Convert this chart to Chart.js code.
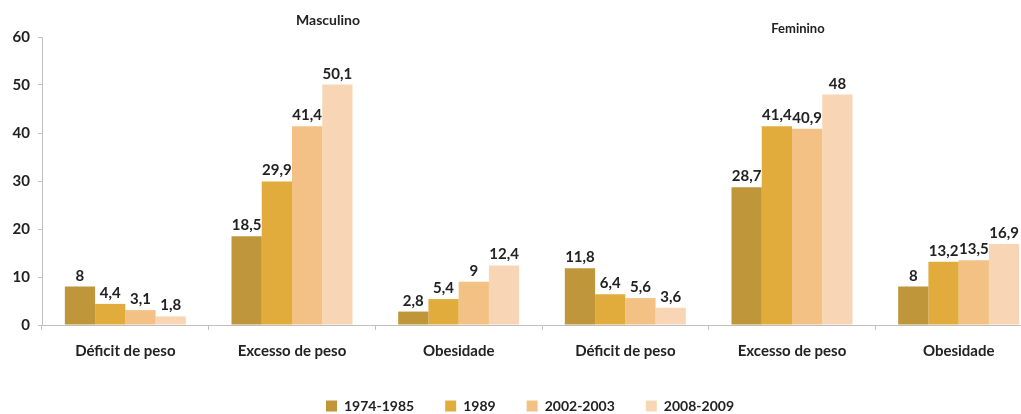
<!DOCTYPE html>
<html>
<head>
<meta charset="utf-8">
<script src="https://cdn.jsdelivr.net/npm/chart.js@4/dist/chart.umd.min.js"></script>
<style>
html,body{margin:0;padding:0;background:#fff;overflow:hidden;}
#wrap{width:1045px;height:414px;}
</style>
</head>
<body>
<div id="wrap"><canvas id="c" width="1045" height="414"></canvas></div>
<script>
const categories = ["Déficit de peso","Excesso de peso","Obesidade","Déficit de peso","Excesso de peso","Obesidade"];
const seriesNames = ["1974-1985","1989","2002-2003","2008-2009"];
const s1974 = [8, 18.5, 2.8, 11.8, 28.7, 8];
const s1989 = [4.4, 29.9, 5.4, 6.4, 41.4, 13.2];
const s2002 = [3.1, 41.4, 9, 5.6, 40.9, 13.5];
const s2008 = [1.8, 50.1, 12.4, 3.6, 48, 16.9];
const yTicks = [0, 10, 20, 30, 40, 50, 60];
const groupTitles = ["Masculino", "Feminino"];

const colors = ["#C0963A", "#E2AC3C", "#F2C183", "#F8D6B5"];
const FONT = "Lato, 'Open Sans', sans-serif";

const valueLabels = {
  id: 'valueLabels',
  afterDatasetsDraw(chart) {
    const ctx = chart.ctx;
    ctx.save();
    ctx.font = "bold 15px " + FONT;
    ctx.fillStyle = "#222";
    ctx.textAlign = "center";
    ctx.textBaseline = "alphabetic";
    chart.data.datasets.forEach((ds, i) => {
      chart.getDatasetMeta(i).data.forEach((bar, j) => {
        const txt = String(ds.data[j]).replace('.', ',');
        ctx.fillText(txt, bar.x, bar.y - 6);
      });
    });
    ctx.restore();
  }
};

const titles = {
  id: 'titles',
  afterDraw(chart) {
    const ctx = chart.ctx;
    ctx.save();
    ctx.fillStyle = "#222";
    ctx.textAlign = "center";
    ctx.textBaseline = "middle";
    ctx.font = "bold 14px " + FONT;
    ctx.fillText(groupTitles[0], 328, 20);
    ctx.font = "bold 13px " + FONT;
    ctx.fillText(groupTitles[1], 798, 29);
    ctx.restore();
  }
};

const shiftLegend = {
  id: 'shiftLegend',
  afterLayout(chart) {
    if (chart.legend) {
      chart.legend.left += 9; chart.legend.right += 9;
      chart.legend.top += 3; chart.legend.bottom += 3;
    }
  }
};

new Chart(document.getElementById('c'), {
  type: 'bar',
  data: {
    labels: categories,
    datasets: [s1974, s1989, s2002, s2008].map((d, i) => ({
      label: seriesNames[i],
      data: d,
      backgroundColor: colors[i],
      borderWidth: 0,
      categoryPercentage: 0.726,
      barPercentage: 1
    }))
  },
  options: {
    responsive: false,
    animation: false,
    layout: { padding: { top: 37, right: 3, left: 0, bottom: -6 } },
    plugins: {
      legend: {
        position: 'bottom',
        labels: {
          boxWidth: 11, boxHeight: 11, padding: 31,
          color: "#222",
          font: { family: FONT, size: 14, weight: 'bold' }
        }
      },
      tooltip: { enabled: false }
    },
    scales: {
      x: {
        grid: { display: true, drawOnChartArea: false, offset: true, tickLength: 5, color: "#BFBFBF" },
        border: { display: true, color: "#BFBFBF", width: 1 },
        ticks: { color: "#222", font: { family: FONT, size: 15, weight: 'bold' }, padding: 12, maxRotation: 0, autoSkip: false },
        afterFit(s) { s.height = 40; }
      },
      y: {
        min: 0, max: 60,
        afterBuildTicks(s) { s.ticks = yTicks.map(v => ({ value: v })); },
        grid: { display: true, drawOnChartArea: false, tickLength: 4, color: "#BFBFBF" },
        border: { display: true, color: "#BFBFBF", width: 1 },
        ticks: { color: "#222", font: { family: FONT, size: 15, weight: 'bold' }, padding: 8 },
        afterFit(s) { s.width = 42; }
      }
    }
  },
  plugins: [valueLabels, titles, shiftLegend]
});
</script>
</body>
</html>
